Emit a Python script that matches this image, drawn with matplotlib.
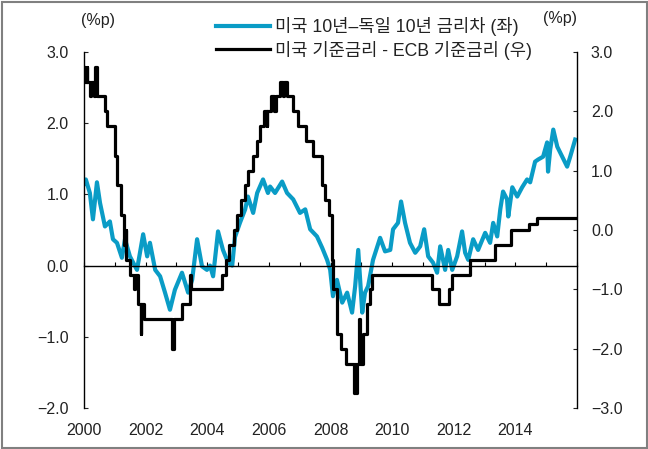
import numpy as np
import pandas as pd
import matplotlib
matplotlib.use("Agg")
import matplotlib.pyplot as plt
from matplotlib.ticker import FuncFormatter
from matplotlib.patches import Rectangle

plt.rcParams['font.family'] = ['Liberation Sans', 'Noto Sans CJK KR', 'DejaVu Sans']

# --- Data -------------------------------------------------------------
# US 10y - German 10y spread (%p, left axis)
spread_years = [
    2000.00, 2000.06, 2000.19, 2000.29, 2000.42, 2000.52, 2000.68, 2000.84, 2000.94,
    2001.07, 2001.23, 2001.33, 2001.49, 2001.72, 2001.92, 2002.05, 2002.14, 2002.31,
    2002.47, 2002.63, 2002.79, 2002.95, 2003.18, 2003.38, 2003.51, 2003.67, 2003.83,
    2003.99, 2004.09, 2004.19, 2004.35, 2004.51, 2004.68, 2004.81, 2004.90, 2005.06,
    2005.23, 2005.32, 2005.49, 2005.62, 2005.81, 2005.97, 2006.04, 2006.20, 2006.43,
    2006.59, 2006.79, 2007.01, 2007.18, 2007.34, 2007.56, 2007.73, 2007.89, 2007.99,
    2008.08, 2008.21, 2008.38, 2008.54, 2008.70, 2008.80, 2008.90, 2009.03, 2009.12,
    2009.22, 2009.38, 2009.61, 2009.77, 2009.94, 2010.03, 2010.19, 2010.29, 2010.42,
    2010.58, 2010.75, 2010.91, 2011.04, 2011.17, 2011.33, 2011.46, 2011.56, 2011.72,
    2011.82, 2011.95, 2012.11, 2012.27, 2012.37, 2012.47, 2012.63, 2012.79, 2013.02,
    2013.18, 2013.28, 2013.41, 2013.51, 2013.60, 2013.73, 2013.77, 2013.90, 2014.06,
    2014.22, 2014.38, 2014.48, 2014.64, 2014.74, 2014.90, 2015.03, 2015.06, 2015.13,
    2015.23, 2015.36, 2015.52, 2015.68, 2015.78, 2015.94,
]
spread_values = [
    1.15, 1.21, 1.02, 0.65, 1.17, 0.88, 0.55, 0.62, 0.37,
    0.32, 0.11, 0.37, 0.13, -0.06, 0.44, 0.13, 0.32, -0.06,
    -0.15, -0.38, -0.62, -0.34, -0.10, -0.38, -0.20, 0.37, -0.01,
    -0.06, 0.00, -0.15, 0.48, 0.22, 0.04, 0.00, 0.40, 0.60,
    0.79, 0.97, 0.74, 1.02, 1.21, 1.02, 1.11, 1.02, 1.18,
    1.02, 0.93, 0.74, 0.79, 0.51, 0.41, 0.25, 0.08, -0.06,
    -0.43, -0.20, -0.52, -0.38, -0.66, -0.29, 0.22, -0.66, -0.38,
    -0.29, 0.08, 0.39, 0.20, 0.22, 0.51, 0.60, 0.90, 0.60,
    0.32, 0.18, 0.27, 0.51, 0.13, 0.04, -0.10, 0.27, -0.06,
    0.22, -0.06, 0.13, 0.48, 0.18, 0.08, 0.37, 0.22, 0.46,
    0.32, 0.60, 0.41, 0.79, 1.04, 0.93, 0.69, 1.10, 0.97,
    1.10, 1.21, 1.17, 1.46, 1.49, 1.53, 1.73, 1.32, 1.63,
    1.91, 1.67, 1.53, 1.39, 1.53, 1.77,
]

# US policy rate - ECB policy rate (%p, right axis): dates of change and new level
policy_dates = [
    "2000-01-01", "2000-01-05", "2000-02-02", "2000-02-04", "2000-03-17", "2000-03-21",
    "2000-04-28", "2000-05-16", "2000-06-09", "2000-09-06", "2000-10-06", "2001-01-03",
    "2001-01-31", "2001-03-20", "2001-04-18", "2001-05-11", "2001-05-15", "2001-06-27",
    "2001-08-21", "2001-08-31", "2001-10-02", "2001-11-06", "2001-11-09", "2001-12-11",
    "2002-11-06", "2002-12-06", "2003-03-07", "2003-06-06", "2003-06-25", "2004-06-30",
    "2004-08-10", "2004-09-21", "2004-11-10", "2004-12-14", "2005-02-02", "2005-03-22",
    "2005-05-03", "2005-06-30", "2005-08-09", "2005-09-20", "2005-11-01", "2005-12-06",
    "2005-12-13", "2006-01-31", "2006-03-08", "2006-03-28", "2006-05-10", "2006-06-15",
    "2006-06-29", "2006-08-09", "2006-10-11", "2006-12-13", "2007-03-14", "2007-06-13",
    "2007-09-18", "2007-10-31", "2007-12-11", "2008-01-22", "2008-01-30", "2008-03-18",
    "2008-04-30", "2008-07-09", "2008-10-08", "2008-10-15", "2008-10-29", "2008-11-12",
    "2008-12-10", "2008-12-16", "2009-01-21", "2009-03-11", "2009-04-08", "2009-05-13",
    "2011-04-13", "2011-07-13", "2011-11-09", "2011-12-14", "2012-07-11", "2013-05-08",
    "2013-11-13", "2014-06-11", "2014-09-10", "2015-12-31",
]
policy_diff = [
    2.75, 2.50, 2.75, 2.50, 2.25, 2.50,
    2.25, 2.75, 2.25, 2.00, 1.75, 1.25,
    0.75, 0.25, -0.25, 0.00, -0.50, -0.75,
    -1.00, -0.75, -1.25, -1.75, -1.25, -1.50,
    -2.00, -1.50, -1.25, -0.75, -1.00, -0.75,
    -0.50, -0.25, 0.00, 0.25, 0.50, 0.75,
    1.00, 1.25, 1.50, 1.75, 2.00, 1.75,
    2.00, 2.25, 2.00, 2.25, 2.50, 2.25,
    2.50, 2.25, 2.00, 1.75, 1.50, 1.25,
    0.75, 0.50, 0.25, -0.50, -1.00, -1.75,
    -2.00, -2.25, -2.75, -2.25, -2.75, -2.25,
    -1.50, -2.25, -1.75, -1.25, -1.00, -0.75,
    -1.00, -1.25, -1.00, -0.75, -0.50, -0.25,
    0.00, 0.10, 0.20, 0.20,
]

x_labels = [2000, 2002, 2004, 2006, 2008, 2010, 2012, 2014]
label_blue = "미국 10년–독일 10년 금리차 (좌)"
label_black = "미국 기준금리 - ECB 기준금리 (우)"

# --- Helpers ----------------------------------------------------------
d = pd.to_datetime(pd.Series(policy_dates))
days_in_year = np.where(d.dt.is_leap_year, 366, 365)
policy_years = (d.dt.year + (d.dt.dayofyear - 1) / days_in_year).to_numpy()

def fmt(v, p):
    return f"{v:.1f}".replace("-", "\u2212")

# --- Figure -----------------------------------------------------------
W, H = 648, 449
fig = plt.figure(figsize=(W / 100, H / 100), dpi=100)
fig.patches.append(Rectangle((1.5 / W, 1.5 / H), 1 - 3 / W, 1 - 3 / H,
                             transform=fig.transFigure, fill=False,
                             edgecolor="#808080", linewidth=1.5))

ax = fig.add_axes([84 / W, 1 - 408 / H, 493 / W, 356 / H])
ax2 = ax.twinx()

blue = "#0a9cc6"
l1, = ax.plot(spread_years, spread_values, color=blue, lw=3.0, solid_joinstyle="round")
l2, = ax2.step(policy_years, policy_diff, where="post", color="black", lw=2.3)

ax.set_xlim(2000, 2016)
ax.set_ylim(-2, 3)
ax2.set_ylim(-3, 3)
ax.set_yticks(np.arange(-2, 3.01, 1))
ax2.set_yticks(np.arange(-3, 3.01, 1))
ax.yaxis.set_major_formatter(FuncFormatter(fmt))
ax2.yaxis.set_major_formatter(FuncFormatter(fmt))

for a in (ax, ax2):
    a.spines["top"].set_visible(False)
    a.set_facecolor("none")
ax2.spines["bottom"].set_visible(False)
ax.spines["bottom"].set_position(("data", 0))
ax.spines["bottom"].set_linewidth(1.0)
ax.spines["left"].set_linewidth(1.0)
ax2.spines["right"].set_linewidth(1.0)
ax.spines["right"].set_visible(False)
ax2.spines["left"].set_visible(False)

ax.set_xticks(np.arange(2000, 2017, 1))
ax.tick_params(axis="x", direction="in", length=3, width=0.8, labelbottom=False)
ax.tick_params(axis="y", direction="in", length=3, width=0.8, labelsize=11.5, pad=11,
               colors="#222222")
ax2.tick_params(axis="y", direction="in", length=3, width=0.8, labelsize=11.5, pad=10,
                colors="#222222")
ax2.tick_params(axis="x", bottom=False, labelbottom=False)

sec = ax.secondary_xaxis("bottom")
sec.spines["bottom"].set_visible(False)
sec.set_xticks(x_labels)
sec.set_xticklabels([str(v) for v in x_labels])
sec.tick_params(length=0, pad=11, labelsize=11.5, colors="#222222")

fig.text(98 / W, 1 - 20 / H, "(%p)", ha="center", va="center", fontsize=11.5, color="#222222")
fig.text(560 / W, 1 - 18 / H, "(%p)", ha="center", va="center", fontsize=11.5, color="#222222")

leg_kw = dict(frameon=False, fontsize=12.7, handlelength=3.05, handletextpad=0.3,
              borderaxespad=0, borderpad=0, labelcolor="#222222", loc="center left")
leg1 = fig.legend([l1], [label_blue], bbox_to_anchor=(216 / W, 1 - 27 / H), **leg_kw)
leg2 = fig.legend([l2], [label_black], bbox_to_anchor=(216 / W, 1 - 50 / H), **leg_kw)

fig.savefig("out.png", dpi=100)
